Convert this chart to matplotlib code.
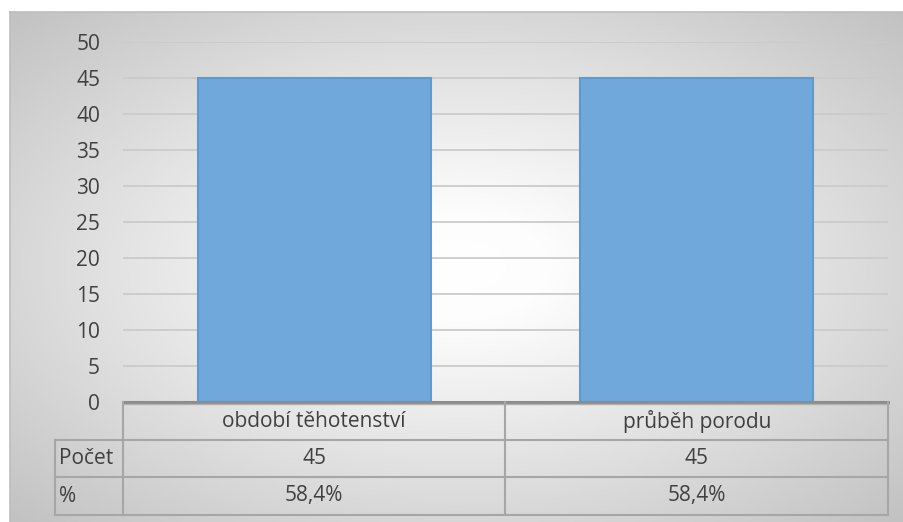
import numpy as np
import matplotlib.pyplot as plt
from matplotlib.colors import LinearSegmentedColormap

categories = ["období těhotenství", "průběh porodu"]
pocet = [45, 45]
procenta = ["58,4%", "58,4%"]
row_labels = ["Počet", "%"]
yticks = [0, 5, 10, 15, 20, 25, 30, 35, 40, 45, 50]

W, H = 904, 522
plt.rcParams['font.family'] = ['Open Sans', 'DejaVu Sans']
txt = '#404040'
fs = 15

fig = plt.figure(figsize=(W / 100, H / 100), dpi=100)
fig.patch.set_facecolor('white')

# background of the chart area: radial gradient
bg = fig.add_axes([10 / W, 0, (W - 10) / W, (H - 12) / H])
bg.set_axis_off()
xx, yy = np.meshgrid(np.linspace(-1, 1, 400), np.linspace(-1, 1, 240))
r = np.sqrt(xx ** 2 + yy ** 2) / np.sqrt(2)
cmap = LinearSegmentedColormap.from_list(
    'g', [(0, '#ffffff'), (0.15, '#fdfdfd'), (0.55, '#e2e2e2'), (1, '#c2c2c2')])
bg.imshow(r, cmap=cmap, aspect='auto', extent=[0, 1, 0, 1], vmin=0, vmax=1)
bg.plot([0, 1], [1, 1], color='#bdbdbd', lw=1.2, transform=bg.transAxes, clip_on=False)
bg.plot([0, 0], [0, 1], color='#bdbdbd', lw=1.2, transform=bg.transAxes, clip_on=False)

# plot area
x0, x1 = 123, 888
ytop, ybot = 41.7, 401.7
ax = fig.add_axes([x0 / W, (H - ybot) / H, (x1 - x0) / W, (ybot - ytop) / H])
ax.patch.set_alpha(0)
pos = np.arange(len(categories))
ax.bar(pos, pocet, width=0.61, color='#70a8dc', edgecolor='#5b9bd5', linewidth=1.5, zorder=3)
ax.set_xlim(-0.5, len(categories) - 0.5)
ax.set_ylim(0, 50)
ax.set_yticks(yticks)
ax.set_yticklabels([str(v) for v in yticks], fontsize=fs, color=txt)
ax.tick_params(axis='y', length=0, pad=16.5)
ax.set_xticks([])
for s in ax.spines.values():
    s.set_visible(False)
ax.grid(axis='y', color='#cbcbcb', lw=1.3, zorder=0)

# data table below
tab = fig.add_axes([0, 0, 1, 1])
tab.set_xlim(0, W)
tab.set_ylim(H, 0)
tab.set_axis_off()
tab.patch.set_alpha(0)
lc = '#a6a6a6'
rows = [401.7, 440, 477, 515]
lab_x = 55
col_w = (x1 - x0) / len(categories)
cols = [x0 + i * col_w for i in range(len(categories) + 1)]

tab.plot([x0, x1], [rows[0], rows[0]], color='#8c8c8c', lw=2.2)
tab.plot([x0, x1], [rows[0] + 2.2, rows[0] + 2.2], color='#b0b0b0', lw=1)
for y in rows[1:]:
    tab.plot([lab_x, x1], [y, y], color=lc, lw=1.5)
tab.plot([lab_x, lab_x], [rows[1], rows[3]], color=lc, lw=1.5)
for c in cols:
    tab.plot([c, c], [rows[0], rows[3]], color=lc, lw=1.5)

for i, cat in enumerate(categories):
    cx = (cols[i] + cols[i + 1]) / 2
    tab.text(cx, (rows[0] + rows[1]) / 2 + 1, cat, ha='center', va='center', fontsize=fs, color=txt)
    tab.text(cx, (rows[1] + rows[2]) / 2, str(pocet[i]), ha='center', va='center', fontsize=fs, color=txt)
    tab.text(cx, (rows[2] + rows[3]) / 2, procenta[i], ha='center', va='center', fontsize=fs, color=txt)
for j, lab in enumerate(row_labels):
    tab.text(lab_x + 4, (rows[j + 1] + rows[j + 2]) / 2, lab, ha='left', va='center', fontsize=fs, color=txt)

fig.savefig('out.png', dpi=100)
